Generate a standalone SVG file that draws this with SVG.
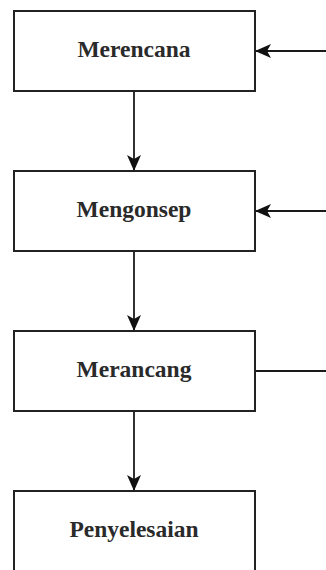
<svg xmlns="http://www.w3.org/2000/svg" width="326" height="570" viewBox="0 0 326 570">
  <style>
    .box { fill: #ffffff; stroke: #222222; stroke-width: 2; }
    .lbl { font-family: "Liberation Serif", "Times New Roman", serif; font-weight: bold; font-size: 23.5px; fill: #2a2a2a; text-anchor: middle; }
    .wire { fill: none; stroke: #1a1a1a; stroke-width: 1.8; }
  </style>
  <defs>
    <marker id="arrow" viewBox="0 0 16 14" refX="15" refY="7" markerWidth="16" markerHeight="14" markerUnits="userSpaceOnUse" orient="auto">
      <path d="M0,0 L16,7 L0,14 L4,7 Z" fill="#111111"/>
    </marker>
  </defs>
  <rect width="326" height="570" fill="#ffffff"/>

  <g id="connectors">
    <line class="wire" x1="134" y1="91" x2="134" y2="170" marker-end="url(#arrow)"/>
    <line class="wire" x1="134" y1="251" x2="134" y2="330" marker-end="url(#arrow)"/>
    <line class="wire" x1="134" y1="411" x2="134" y2="490" marker-end="url(#arrow)"/>
    <line class="wire" x1="326" y1="51" x2="256" y2="51" marker-end="url(#arrow)"/>
    <line class="wire" x1="326" y1="211" x2="256" y2="211" marker-end="url(#arrow)"/>
    <line class="wire" x1="255" y1="371" x2="326" y2="371"/>
  </g>

  <g id="merencana">
    <rect class="box" x="14" y="11" width="241" height="80"/>
    <text class="lbl" x="134" y="57">Merencana</text>
  </g>
  <g id="mengonsep">
    <rect class="box" x="14" y="171" width="241" height="80"/>
    <text class="lbl" x="134" y="217">Mengonsep</text>
  </g>
  <g id="merancang">
    <rect class="box" x="14" y="331" width="241" height="80"/>
    <text class="lbl" x="134" y="377">Merancang</text>
  </g>
  <g id="penyelesaian">
    <rect class="box" x="14" y="491" width="241" height="80"/>
    <text class="lbl" x="134" y="537">Penyelesaian</text>
  </g>
</svg>
